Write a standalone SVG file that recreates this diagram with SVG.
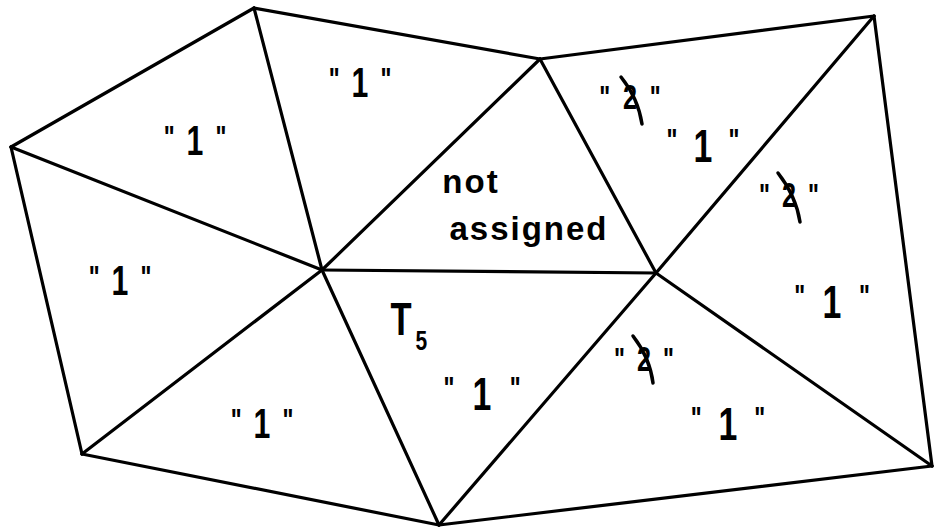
<svg xmlns="http://www.w3.org/2000/svg" width="934" height="529" viewBox="0 0 934 529">
<style>
.e{stroke:#000;stroke-width:3.2;stroke-linecap:round;fill:none}
.t{font-family:"Liberation Sans",Arial,sans-serif;font-weight:bold;fill:#000;text-anchor:middle}
.s{font-size:42px}
.b{font-size:47px}
.m{font-size:32px}
.w{font-size:33px;letter-spacing:2px}
.x{stroke:#000;stroke-width:3.5;stroke-linecap:round;fill:none}
</style>
<rect width="934" height="529" fill="#fff"/>
<g id="connectors">
<line class="e" x1="11" y1="147" x2="254" y2="8"/>
<line class="e" x1="254" y1="8" x2="540" y2="59"/>
<line class="e" x1="540" y1="59" x2="874" y2="16"/>
<line class="e" x1="874" y1="16" x2="932" y2="466"/>
<line class="e" x1="932" y1="466" x2="439" y2="525"/>
<line class="e" x1="439" y1="525" x2="82" y2="454"/>
<line class="e" x1="82" y1="454" x2="11" y2="147"/>
<line class="e" x1="11" y1="147" x2="322" y2="270"/>
<line class="e" x1="254" y1="8" x2="322" y2="270"/>
<line class="e" x1="540" y1="59" x2="322" y2="270"/>
<line class="e" x1="322" y1="270" x2="656" y2="273"/>
<line class="e" x1="540" y1="59" x2="656" y2="273"/>
<line class="e" x1="874" y1="16" x2="656" y2="273"/>
<line class="e" x1="656" y1="273" x2="932" y2="466"/>
<line class="e" x1="656" y1="273" x2="439" y2="525"/>
<line class="e" x1="322" y1="270" x2="439" y2="525"/>
<line class="e" x1="322" y1="270" x2="82" y2="454"/>
</g>
<g id="t1"><text class="t" transform="translate(195,155) scale(0.72,1)"><tspan class="m" x="-36" y="-7">"</tspan><tspan class="s" x="0" y="0">1</tspan><tspan class="m" x="36" y="-7">"</tspan></text></g>
<g id="t2"><text class="t" transform="translate(360,97) scale(0.72,1)"><tspan class="m" x="-36" y="-7">"</tspan><tspan class="s" x="0" y="0">1</tspan><tspan class="m" x="36" y="-7">"</tspan></text></g>
<g id="t3"><text class="t" transform="translate(120,295) scale(0.72,1)"><tspan class="m" x="-36" y="-7">"</tspan><tspan class="s" x="0" y="0">1</tspan><tspan class="m" x="36" y="-7">"</tspan></text></g>
<g id="t4"><text class="t" transform="translate(262,438) scale(0.72,1)"><tspan class="m" x="-36" y="-7">"</tspan><tspan class="s" x="0" y="0">1</tspan><tspan class="m" x="36" y="-7">"</tspan></text></g>
<g id="t5">
<text class="t" transform="translate(401,335) scale(0.75,1)"><tspan font-size="46" x="0" y="0">T</tspan><tspan font-size="28" x="27" y="15">5</tspan></text>
<text class="t" transform="translate(482,410) scale(0.72,1)"><tspan class="m" x="-46" y="-11">"</tspan><tspan class="b" x="0" y="0">1</tspan><tspan class="m" x="46" y="-11">"</tspan></text>
</g>
<g id="na"><text class="t w" x="471" y="193">not</text><text class="t w" x="529" y="240">assigned</text></g>
<g id="t6">
<text class="t" transform="translate(630,109) scale(0.72,1)"><tspan class="m" x="-35" y="-1">"</tspan><tspan font-size="35" x="0" y="0">2</tspan><tspan class="m" x="35" y="-1">"</tspan></text>
<path class="x" d="M621 77 Q638 98 642 124"/>
<text class="t" transform="translate(703,162) scale(0.72,1)"><tspan class="m" x="-43" y="-11">"</tspan><tspan class="b" x="0" y="0">1</tspan><tspan class="m" x="43" y="-11">"</tspan></text>
</g>
<g id="t7">
<text class="t" transform="translate(789,207) scale(0.72,1)"><tspan class="m" x="-34" y="-1">"</tspan><tspan font-size="35" x="0" y="0">2</tspan><tspan class="m" x="34" y="-1">"</tspan></text>
<path class="x" d="M778 173 Q796 196 800 222"/>
<text class="t" transform="translate(832,318) scale(0.72,1)"><tspan class="m" x="-45" y="-11">"</tspan><tspan class="b" x="0" y="0">1</tspan><tspan class="m" x="45" y="-11">"</tspan></text>
</g>
<g id="t8">
<text class="t" transform="translate(644,371) scale(0.72,1)"><tspan class="m" x="-34" y="-1">"</tspan><tspan font-size="35" x="0" y="0">2</tspan><tspan class="m" x="34" y="-1">"</tspan></text>
<path class="x" d="M633 336 Q650 358 653 383"/>
<text class="t" transform="translate(728,440) scale(0.72,1)"><tspan class="m" x="-44" y="-11">"</tspan><tspan class="b" x="0" y="0">1</tspan><tspan class="m" x="44" y="-11">"</tspan></text>
</g>
</svg>
